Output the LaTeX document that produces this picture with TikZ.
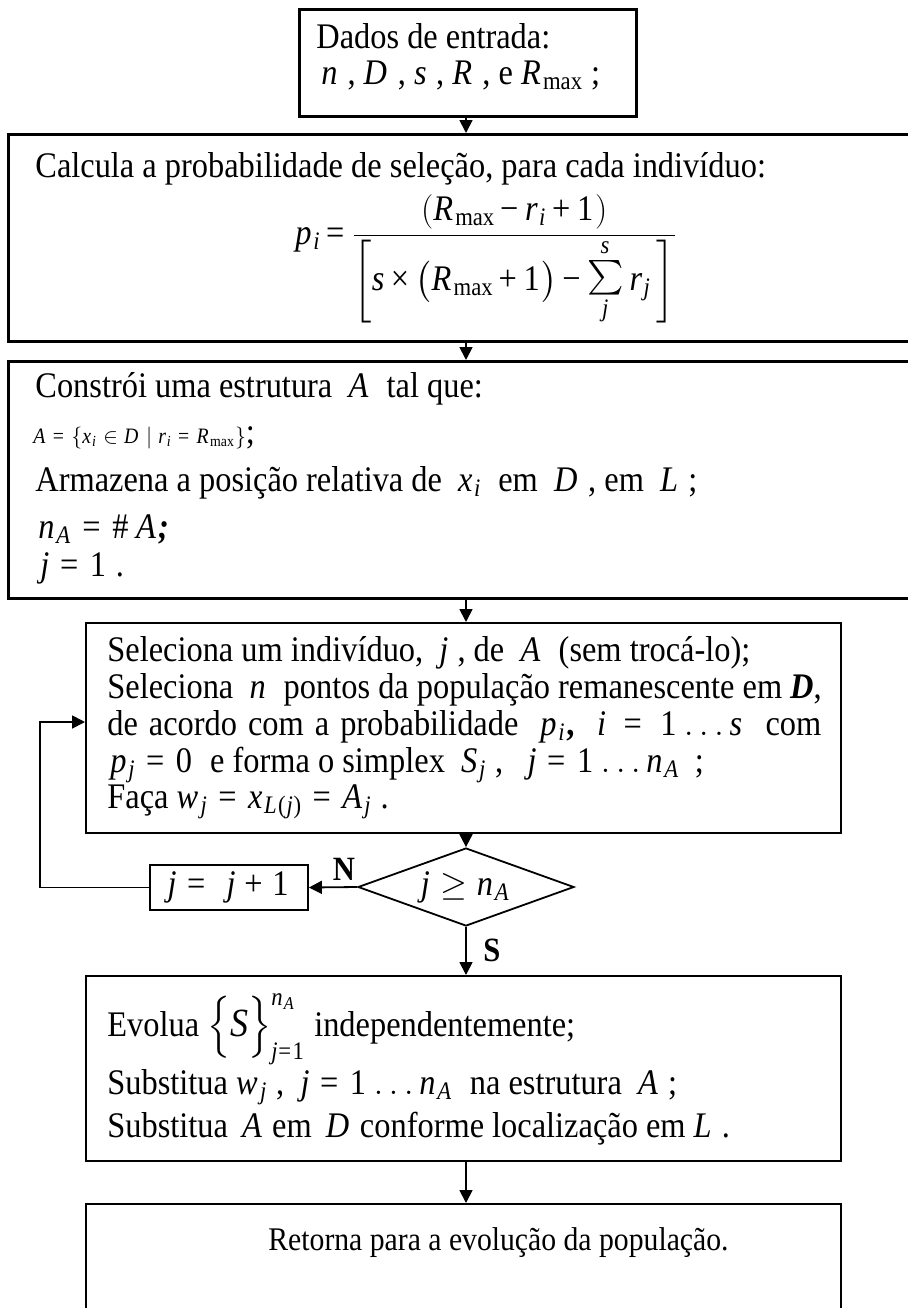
\documentclass[tikz,border=0pt]{standalone}
\usepackage{amsmath}
\usepackage{fontspec}
\setmainfont{Liberation Serif}[FakeStretch=0.9]
\usetikzlibrary{shapes.geometric,arrows.meta}
\DeclareSymbolFont{tletters}{TU}{\rmdefault}{m}{it}
\DeclareSymbolFont{tup}{TU}{\rmdefault}{m}{n}
\makeatletter
\def\setmathrange#1#2#3#4{%
  \@tempcnta=`#1\relax
  \loop
    \Umathcode\@tempcnta=#3 #4 \@tempcnta
    \ifnum\@tempcnta<`#2\relax \advance\@tempcnta\@ne
  \repeat}
\AtBeginDocument{%
  \setmathrange az{"7}{\symtletters}%
  \setmathrange AZ{"7}{\symtletters}%
  \setmathrange 09{"7}{\symtup}%
  \Umathcode`\= = "3 \symtup `\=
  \Umathcode`\+ = "2 \symtup `\+
  \Umathcode`\- = "2 \symtup "2212
  \Umathcode`\( = "4 \symtup `\(
  \Umathcode`\) = "5 \symtup `\)
  \Umathchardef\ttimes = "2 \symtup "00D7
}
\makeatother
\newcommand\Rmx{R_{\textup{max}}}
\newcommand\sumsj{\mathop{\vcenter{\hbox{\shortstack{$\scriptstyle s$\\[0.5pt]$\textstyle\sum$\\[-1pt]$\scriptstyle j$}}}}}
\tikzset{
  box/.style={draw, line width=1.1pt, inner sep=0pt, anchor=north west},
  bigbox/.style={box, line width=1.4pt},
  txt/.style={inner sep=0pt, anchor=base west},
  arr/.style={line width=0.9pt, -{Triangle[length=6.5pt,width=6.5pt]}},
  lbl/.style={inner sep=0pt, font=\fontsize{17}{19}\selectfont\bfseries},
  every node/.append style={font=\fontsize{18}{21}\selectfont}
}
\begin{document}
\begin{tikzpicture}[x=0.5pt,y=-0.5pt]
\fill[white] (0,0) rectangle (907,1308);
\useasboundingbox (0,0) rectangle (907,1308);
\coordinate (ax) at (466,0);
% box 1
\node[bigbox, minimum width=168.5pt, minimum height=53.5pt] (b1) at (298,8) {};
\node[txt] (t1a) at (316,48) {Dados de entrada:};
\node[txt] (t1b) at (321,84) {$n$ , $D$ , $s$ , $R$ , e $\Rmx$ ;};
% box 2
\node[bigbox, minimum width=454pt, minimum height=103.5pt] (b2) at (7,133) {};
\node[txt] (t2a) at (35,177) {Calcula a probabilidade de seleção, para cada indivíduo:};
\node[txt] (t2b) at (295,244) {$\displaystyle \thickmuskip=2.5mu \medmuskip=2.5mu p_i = \frac{\bigl(\Rmx - r_i + 1\bigr)}{\delimitershortfall=0pt\delimiterfactor=1000 \left[ s \ttimes \bigl(\Rmx + 1\bigr) - \sumsj r_j \vrule height 23pt depth 13pt width 0pt\;\right]}$};
% box 3
\node[bigbox, minimum width=454pt, minimum height=118.5pt] (b3) at (7,360) {};
\node[txt] (t3a) at (35,397) {Constrói uma estrutura \ $A$ \ tal que:};
\node[txt] (t3b) at (33,443) {{\fontsize{11}{13}\selectfont $A = \bigl\{x_i \in D \mid r_i = \Rmx\bigr\}$};};
\node[txt] (t3c) at (35,491) {Armazena a posição relativa de \ $x_i$ \ em \ $D$ , em \ $L$ ;};
\node[txt] (t3d) at (38,538) {$n_A = \#\,A$\textbf{\textit{;}}};
\node[txt] (t3e) at (40,576) {$j = 1$ .};
% box 4
\node[box, minimum width=377.5pt, minimum height=105pt] (b4) at (85,622) {};
\node[txt] (t4a) at (107,661) {Seleciona um indivíduo, \ $j$ , de \ $A$ \ (sem trocá-lo);};
\node[txt] (t4b) at (107,698) {Seleciona \ $n$ \ pontos da população remanescente em \textbf{\textit{D}},};
\node[txt] (t4c) at (107,735) {\makebox[357pt][s]{de acordo com a probabilidade \ $p_i$\textbf{,} \ $i = 1\ldots s$ \ com}};
\node[txt] (t4d) at (110,772) {$p_j = 0$ \ e forma o simplex \ $S_j$ , \ \ $j = 1\ldots n_A$ \,;};
\node[txt] (t4e) at (107,808) {Faça $w_j = x_{L(j)} = A_j$ .};
% decision
\node[diamond, draw, line width=0.9pt, minimum width=108pt, minimum height=39pt, inner sep=0pt] (d) at (466,887) {};
\node[inner sep=0pt] (dt) at (d.center) {$j \geq n_A$};
\node[draw, line width=0.9pt, minimum width=79pt, minimum height=22.5pt, inner sep=0pt] (jb) at (229,887.5) {$j = \; j + 1$};
\node[lbl] (nl) at (344,869) {N};
\node[lbl] (sl) at (492,950) {S};
% box 5
\node[box, minimum width=377.5pt, minimum height=92.5pt] (b5) at (85,975) {};
\node[txt] (t5a) at (107,1036) {Evolua $\Bigl\{ \text{\fontsize{20}{20}\selectfont\itshape S} \Bigr\}_{j=1}^{n_A}$ independentemente;};
\node[txt] (t5b) at (107,1094) {Substitua $w_j$ , \ $j = 1\ldots n_A$ \ na estrutura \ $A$ ;};
\node[txt] (t5c) at (107,1137) {Substitua \,$A$ em \,$D$ conforme localização em $L$ .};
% box 6
\node[box, minimum width=377.5pt, minimum height=54.5pt] (b6) at (85,1203) {};
\node[txt, font=\fontsize{16.5}{19}\selectfont] (t6) at (268,1250) {Retorna para a evolução da população.};
% connectors
\draw[arr] (b1.south -| ax) -- (b2.north -| ax);
\draw[arr] (b2.south -| ax) -- (b3.north -| ax);
\draw[arr] (b3.south -| ax) -- (b4.north -| ax);
\draw[arr] (b4.south -| ax) -- (d.north);
\draw[arr] (d.west) -- (jb.east);
\draw[arr] (d.south) -- (b5.north -| d.south);
\draw[arr] (b5.south -| ax) -- (b6.north -| ax);
\coordinate (lp) at (40,722);
\draw[arr] (jb.west) -- (jb.west -| lp) -- (lp) -- (lp -| b4.west);
\end{tikzpicture}
\end{document}
